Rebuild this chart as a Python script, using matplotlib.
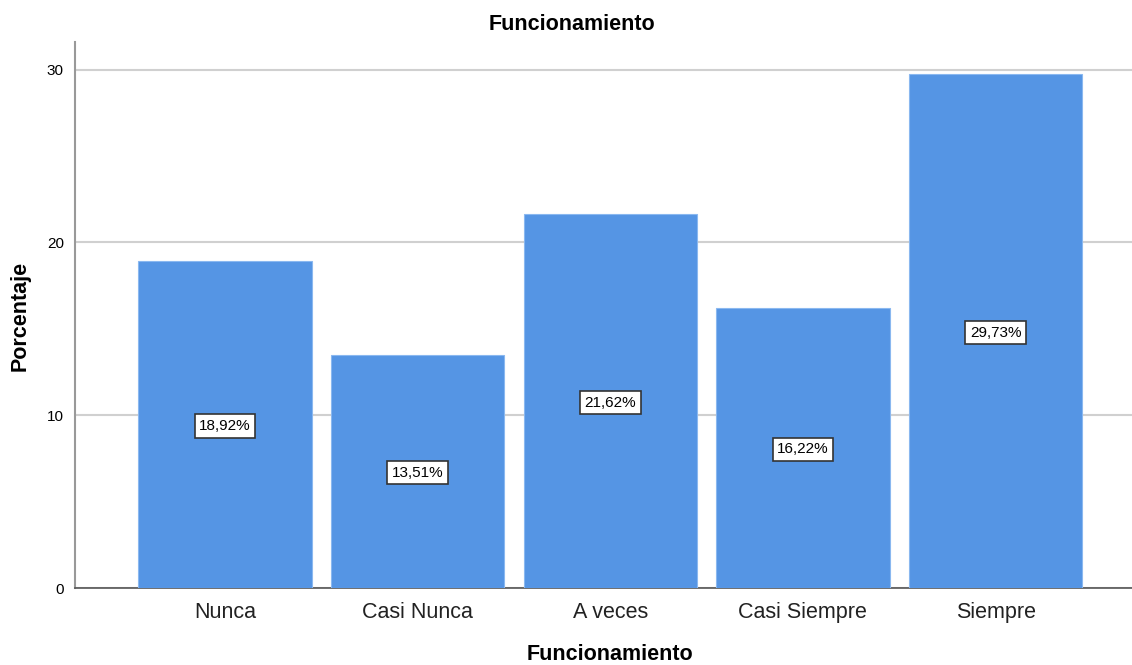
import matplotlib.pyplot as plt

plt.rcParams['font.family'] = ['Liberation Sans', 'DejaVu Sans']

# datos
categorias = ["Nunca", "Casi Nunca", "A veces", "Casi Siempre", "Siempre"]
porcentajes = [18.92, 13.51, 21.62, 16.22, 29.73]
etiquetas = ["18,92%", "13,51%", "21,62%", "16,22%", "29,73%"]
yticks = [0, 10, 20, 30]

fig = plt.figure(figsize=(11.32, 6.65), dpi=100)
ax = fig.add_axes([75 / 1132, 1 - 588 / 665, (1132 - 75) / 1132, (588 - 42) / 665])

x = list(range(len(categorias)))
ax.bar(x, porcentajes, width=0.9, color="#5595e4", edgecolor="#8ab8f0", linewidth=0.8, zorder=3)

for xi, v, lab in zip(x, porcentajes, etiquetas):
    ax.text(xi, v / 2, lab, ha="center", va="center_baseline", fontsize=11, zorder=4,
            bbox=dict(boxstyle="square,pad=0.3", facecolor="white", edgecolor="#333333", linewidth=1.2))

ax.set_xlim(-0.778, 4.708)
ax.set_ylim(0, 31.6)
ax.set_yticks(yticks)
ax.set_xticks(x)
ax.set_xticklabels(categorias, fontsize=15.5, color="#222222")
ax.tick_params(axis="y", labelsize=11, length=0, pad=8)
ax.tick_params(axis="x", length=0, pad=10)
ax.yaxis.grid(True, color="#d0d0d0", linewidth=1.5, zorder=0)
ax.set_axisbelow(True)

for s in ["top", "right"]:
    ax.spines[s].set_visible(False)
ax.spines["left"].set_color("#999999")
ax.spines["left"].set_linewidth(1.5)
ax.spines["bottom"].set_color("#555555")
ax.spines["bottom"].set_linewidth(1.2)

fig.text(572 / 1132, 1 - 25 / 665, "Funcionamiento", ha="center", va="center", fontsize=15.5, fontweight="bold")
fig.text(610 / 1132, 1 - 655 / 665, "Funcionamiento", ha="center", va="center", fontsize=15.5, fontweight="bold")
fig.text(20 / 1132, 1 - 316 / 665, "Porcentaje", ha="center", va="center", rotation=90, fontsize=15.5, fontweight="bold")

plt.savefig("out.png", dpi=100)
